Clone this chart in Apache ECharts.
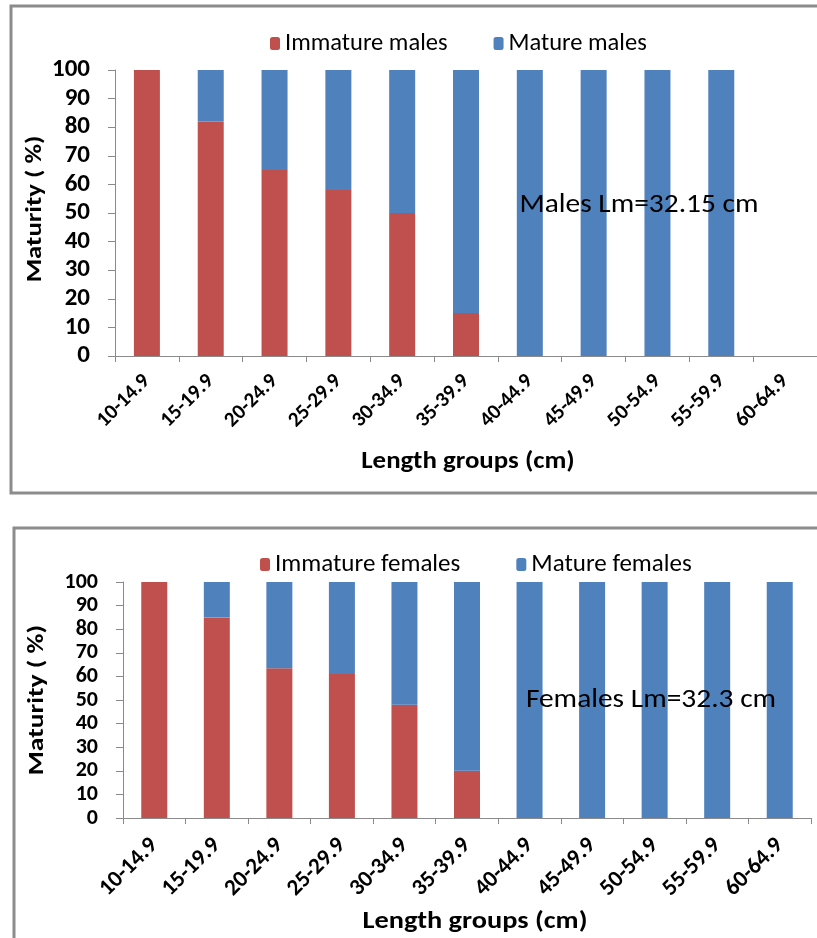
<!DOCTYPE html>
<html>
<head>
<meta charset="utf-8">
<script src="https://cdn.jsdelivr.net/npm/echarts@6/dist/echarts.min.js"></script>
<style>
html,body{margin:0;padding:0;background:#fff;}
#c{width:817px;height:938px;}
</style>
</head>
<body>
<div id="c"></div>
<script>
const categories = ['10-14.9','15-19.9','20-24.9','25-29.9','30-34.9','35-39.9','40-44.9','45-49.9','50-54.9','55-59.9','60-64.9'];
const immatureMales = [100, 82, 65, 58, 50, 15, 0, 0, 0, 0, 0];
const matureMales   = [0, 18, 35, 42, 50, 85, 100, 100, 100, 100, 0];
const immatureFemales = [100, 85, 63.5, 61, 48, 20, 0, 0, 0, 0, 0];
const matureFemales   = [0, 15, 36.5, 40, 52, 80, 100, 100, 100, 100, 100];
const yTicks = [0, 10, 20, 30, 40, 50, 60, 70, 80, 90, 100];

const FONT = 'Carlito, "Liberation Sans Narrow", "Open Sans", sans-serif';
const RED = '#C0504D', BLUE = '#4F81BD', AX = '#8a8a8a';

function xAxis(gi, fs, margin){
  return {type:'category', gridIndex:gi, data:categories,
    axisLine:{lineStyle:{color:AX}}, axisTick:{show:true, lineStyle:{color:AX}, length:6},
    axisLabel:{rotate:45, color:'#000', fontFamily:FONT, fontSize:fs, fontWeight:'bold', margin:margin,
      interval:0, hideOverlap:false}};
}
function yAxis(gi, fs, margin){
  return {type:'value', gridIndex:gi, min:yTicks[0], max:yTicks[yTicks.length-1], interval:10,
    axisLine:{show:true, lineStyle:{color:AX}}, axisTick:{show:true, lineStyle:{color:AX}, length:7},
    splitLine:{show:false},
    axisLabel:{color:'#000', fontFamily:FONT, fontSize:fs, fontWeight:'bold', margin:margin}};
}
function bar(name, data, color, gi, stack){
  return {name, type:'bar', stack, xAxisIndex:gi, yAxisIndex:gi, data, barWidth:26,
    itemStyle:{color}, emphasis:{disabled:true}, animation:false};
}
function txt(x, y, s, font, opts){
  return Object.assign({type:'text', x, y, z:10,
    style:{text:s, font:font, fill:'#000', textAlign:'center', textVerticalAlign:'middle'}}, opts||{});
}
const chart = echarts.init(document.getElementById('c'), null, {renderer:'canvas'});
chart.setOption({
  animation:false,
  backgroundColor:'#fff',
  grid:[{left:115, top:70, height:286, right:-5},
        {left:123, top:582, height:236, right:6}],
  xAxis:[xAxis(0, 21, 22), xAxis(1, 23, 24)],
  yAxis:[yAxis(0, 25, 25), yAxis(1, 22, 25)],
  legend:[
    {data:['Immature males','Mature males'], top:26, left:265, itemWidth:10, itemHeight:13, itemGap:46,
      textStyle:{fontFamily:FONT, fontSize:24.5, color:'#000'}},
    {data:['Immature females','Mature females'], top:547, left:255, itemWidth:10, itemHeight:13, itemGap:56,
      textStyle:{fontFamily:FONT, fontSize:25, color:'#000'}}
  ],
  series:[
    bar('Immature males', immatureMales, RED, 0, 'm'),
    bar('Mature males', matureMales, BLUE, 0, 'm'),
    bar('Immature females', immatureFemales, RED, 1, 'f'),
    bar('Mature females', matureFemales, BLUE, 1, 'f')
  ],
  graphic:[
    {type:'rect', shape:{x:11, y:6, width:830, height:487}, style:{fill:'none', stroke:'#8c8c8c', lineWidth:3}, z:-1},
    {type:'rect', shape:{x:14, y:528, width:830, height:430}, style:{fill:'none', stroke:'#8c8c8c', lineWidth:3}, z:-1},
    txt(639, 205, 'Males Lm=32.15 cm', '27px '+FONT, {scaleX:1.09}),
    txt(651, 700, 'Females Lm=32.3 cm', '27px '+FONT, {scaleX:1.09}),
    txt(468, 462, 'Length groups (cm)', 'bold 24px '+FONT, {scaleX:1.12}),
    txt(475, 922, 'Length groups (cm)', 'bold 24px '+FONT, {scaleX:1.18}),
    txt(35, 209, 'Maturity ( %)', 'bold 22px '+FONT, {rotation:Math.PI/2, scaleX:1.22}),
    txt(37, 700, 'Maturity ( %)', 'bold 22px '+FONT, {rotation:Math.PI/2, scaleX:1.25})
  ]
});
</script>
</body>
</html>
